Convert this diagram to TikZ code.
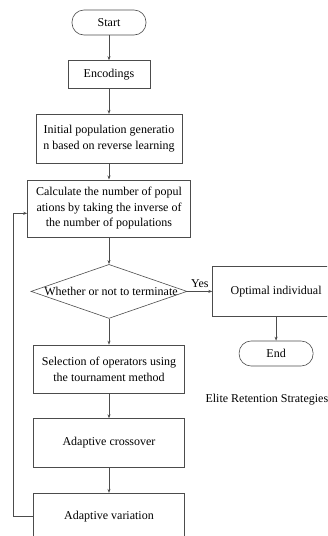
\documentclass[tikz,border=0pt]{standalone}
\usepackage{fontspec}
\setmainfont{Liberation Serif}
\usetikzlibrary{shapes,arrows,arrows.meta,positioning}

\begin{document}
\begin{tikzpicture}[x=1pt, y=-1pt, node distance=25pt, auto,
        font=\fontsize{12}{15.7}\selectfont,
        block/.style={rectangle, draw=black!70, line width=0.6pt, align=center, inner sep=2pt},
        term/.style={rectangle, draw=black!70, line width=0.6pt, rounded corners=12pt, minimum width=74pt, minimum height=25pt},
        decision/.style={diamond, draw=black!70, line width=0.6pt, inner sep=0pt, minimum width=156pt, minimum height=54pt},
        arrow/.style={-{Stealth[length=4pt,width=3pt]}, draw=black!70, line width=0.6pt}]

        \clip (0,0) rectangle (327,536);
        \useasboundingbox (0,0) rectangle (327,536);

        % Main column
        \node[term] (start) at (109,22.5) {Start};
        \node[block, minimum width=82pt, minimum height=28pt, below=of start] (encode) {Encodings};
        \node[block, minimum width=146pt, minimum height=49pt, below=of encode] (init) {Initial population generatio\\n based on reverse learning};
        \node[block, minimum width=163pt, minimum height=57pt, below=16pt of init] (calc) {Calculate the number of popul\\ations by taking the inverse of\\the number of populations};
        \node[decision, below=27pt of calc, label={[xshift=2pt]center:Whether or not to terminate}] (decide) {};
        \node[block, minimum width=151pt, minimum height=48pt, below=26pt of decide] (select) {Selection of operators using\\the tournament method};
        \node[block, minimum width=151pt, minimum height=49pt, below=of select] (cross) {Adaptive crossover};
        \node[block, minimum width=151pt, minimum height=46pt, below=of cross] (vary) {Adaptive variation};

        % Right branch
        \node[block, minimum width=127pt, minimum height=50pt, right=25pt of decide] (optimal) {Optimal individual};
        \node[term, below=24pt of optimal] (end) {End};
        \node[anchor=west] (elite) at (202,400) {Elite Retention Strategies};

        % Arrows
        \draw[arrow] (start) -- (encode);
        \draw[arrow] (encode) -- (init);
        \draw[arrow] (init) -- (calc);
        \draw[arrow] (calc) -- (decide);
        \draw[arrow] (decide) -- node[above] {Yes} (optimal);
        \draw[arrow] (optimal) -- (end);
        \draw[arrow] (decide) -- (select);
        \draw[arrow] (select) -- (cross);
        \draw[arrow] (cross) -- (vary);
        \draw[arrow] (vary.west) -- ++(-20,0) |- ([yshift=-5pt]calc.west);
    \end{tikzpicture}
\end{document}
